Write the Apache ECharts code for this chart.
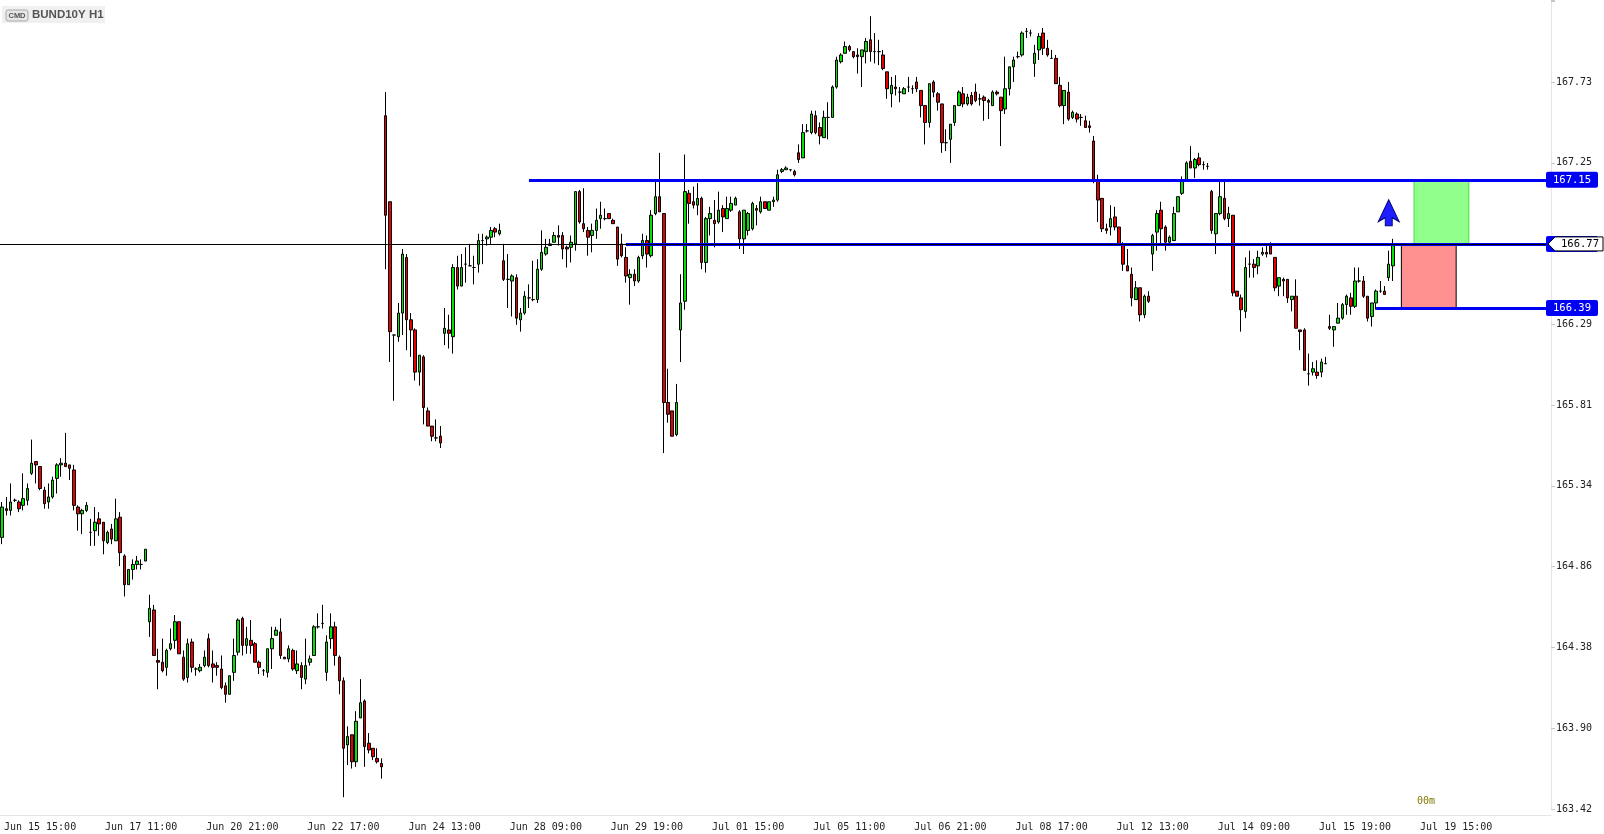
<!DOCTYPE html>
<html><head><meta charset="utf-8">
<script src="https://cdn.jsdelivr.net/npm/echarts@6/dist/echarts.min.js"></script>
<style>html,body{margin:0;padding:0;background:#fff}#c{width:1604px;height:834px}</style>
</head><body><div id="c"></div>
<script>
// ---------- data ----------
const instrument = 'BUND10Y H1';
const xTickLabels = ['Jun 15 15:00','Jun 17 11:00','Jun 20 21:00','Jun 22 17:00','Jun 24 13:00','Jun 28 09:00','Jun 29 19:00','Jul 01 15:00','Jul 05 11:00','Jul 06 21:00','Jul 08 17:00','Jul 12 13:00','Jul 14 09:00','Jul 15 19:00','Jul 19 15:00'];
const firstLabelIndex = 9, labelEvery = 24, slotCount = 368;
const yTickLabels = ['163.42','163.90','164.38','164.86','165.34','165.81','166.29','166.77','167.25','167.73'];
const yMin = 163.42, yStep = 0.47889, yMax = 168.216;

const open = [
165.03,165.20,165.19,165.25,165.24,165.22,165.25,165.41,165.48,165.45,
165.31,165.24,165.27,165.38,165.46,165.47,165.46,165.43,165.21,165.17,
165.19,165.06,165.07,165.14,165.12,165.00,165.08,165.01,165.15,164.92,
164.75,164.84,164.87,164.87,164.89,164.53,164.60,164.30,164.29,164.26,
164.37,164.42,164.53,164.32,164.20,164.41,164.25,164.24,164.27,164.43,
164.28,164.27,164.25,164.15,164.10,164.23,164.35,164.55,164.39,164.42,
164.40,164.29,164.24,164.23,164.37,164.45,164.47,164.32,164.31,164.36,
164.24,164.27,164.19,164.29,164.33,164.50,164.52,164.23,164.43,164.50,
164.32,164.18,163.80,163.86,163.70,163.96,164.06,163.81,163.78,163.72,
163.69,167.53,167.02,166.23,166.22,166.36,166.69,166.32,166.26,166.01,
166.10,165.78,165.69,165.62,165.63,166.24,166.26,166.22,166.63,166.52,
166.65,166.64,166.63,166.65,166.79,166.80,166.81,166.86,166.83,166.67,
166.56,166.55,166.57,166.32,166.36,166.45,166.44,166.44,166.62,166.71,
166.76,166.78,166.82,166.82,166.75,166.75,166.77,167.08,166.89,166.85,
166.82,166.85,166.92,166.92,166.95,166.91,166.87,166.77,166.69,166.57,
166.59,166.55,166.70,166.79,166.70,166.95,167.05,166.95,165.83,165.78,
165.64,166.26,166.43,167.07,167.02,167.00,167.04,166.66,166.92,166.91,
166.90,166.98,166.92,166.97,167.00,166.96,166.80,166.85,166.86,166.98,
166.96,167.02,166.97,167.02,167.03,167.20,167.21,167.21,167.20,167.31,
167.28,167.44,167.43,167.53,167.46,167.40,167.52,167.52,167.70,167.85,
167.90,167.94,167.91,167.89,167.88,167.91,167.98,167.91,167.91,167.89,
167.79,167.66,167.70,167.67,167.66,167.70,167.69,167.73,167.68,167.59,
167.49,167.73,167.66,167.60,167.37,167.39,167.49,167.59,167.66,167.60,
167.65,167.67,167.63,167.64,167.62,167.59,167.67,167.64,167.57,167.69,
167.82,167.88,167.89,168.03,168.02,167.84,167.92,168.02,167.93,167.87,
167.87,167.71,167.59,167.67,167.52,167.54,167.52,167.50,167.47,167.38,
167.14,167.04,166.86,166.87,166.93,166.87,166.77,166.64,166.59,166.44,
166.51,166.35,166.46,166.71,166.84,166.97,166.87,166.78,166.79,166.96,
167.07,167.15,167.26,167.22,167.28,167.24,167.23,167.08,166.83,166.95,
167.04,166.92,166.94,166.49,166.45,166.37,166.65,166.65,166.64,166.71,
166.72,166.76,166.69,166.52,166.56,166.56,166.44,166.46,166.26,166.26,
166.00,166.01,166.01,166.01,166.06,166.28,166.26,166.30,166.33,166.41,
166.45,166.40,166.55,166.55,166.46,166.34,166.42,166.49,166.49,166.57,
166.64];
const high = [
165.24,165.27,165.35,165.26,165.25,165.41,165.35,165.61,165.48,165.45,
165.33,165.35,165.39,165.47,165.50,165.65,165.46,165.46,165.22,165.20,
165.24,165.14,165.21,165.18,165.12,165.07,165.11,165.26,165.18,164.93,
164.84,164.90,164.92,164.90,164.96,164.69,164.63,164.37,164.43,164.37,
164.49,164.57,164.53,164.36,164.43,164.43,164.26,164.28,164.36,164.46,
164.36,164.29,164.33,164.17,164.21,164.43,164.55,164.56,164.50,164.54,
164.41,164.30,164.25,164.37,164.50,164.50,164.55,164.32,164.39,164.37,
164.36,164.29,164.43,164.33,164.51,164.58,164.63,164.45,164.58,164.53,
164.33,164.20,163.91,163.86,164.00,164.19,164.07,163.87,163.78,163.78,
163.72,167.67,167.02,166.23,166.42,166.74,166.71,166.36,166.27,166.11,
166.11,165.80,165.69,165.73,165.69,166.39,166.35,166.65,166.70,166.71,
166.75,166.77,166.70,166.83,166.83,166.82,166.87,166.87,166.89,166.77,
166.71,166.59,166.59,166.39,166.49,166.53,166.67,166.68,166.85,166.80,
166.80,166.84,166.88,166.84,166.76,166.82,167.08,167.09,167.10,166.87,
166.89,166.98,167.02,166.98,166.95,166.92,166.87,166.83,166.75,166.62,
166.62,166.70,166.83,166.82,166.97,167.14,167.31,166.95,166.03,165.78,
165.94,166.59,167.30,167.09,167.11,167.13,167.05,166.93,166.99,167.03,
167.08,167.00,167.05,167.05,167.05,166.97,166.97,166.96,167.02,167.00,
167.05,167.02,167.02,167.05,167.21,167.22,167.23,167.21,167.21,167.36,
167.48,167.48,167.56,167.56,167.49,167.56,167.61,167.71,167.88,167.90,
167.97,167.95,167.91,167.93,167.92,167.99,168.12,168.02,167.98,167.92,
167.79,167.76,167.77,167.70,167.70,167.76,167.71,167.76,167.68,167.59,
167.72,167.74,167.67,167.60,167.45,167.48,167.59,167.68,167.70,167.66,
167.67,167.72,167.66,167.65,167.63,167.68,167.68,167.64,167.88,167.82,
167.88,167.91,168.03,168.05,168.04,167.95,168.02,168.05,167.98,167.92,
167.89,167.76,167.68,167.73,167.56,167.55,167.54,167.53,167.50,167.41,
167.18,167.04,166.89,167.00,166.99,166.87,166.78,166.74,166.63,166.55,
166.51,166.47,166.49,166.83,166.97,167.02,166.88,166.82,166.99,167.05,
167.17,167.26,167.35,167.28,167.31,167.26,167.25,167.09,166.95,167.15,
167.15,166.99,166.94,166.49,166.47,166.69,166.73,166.68,166.73,166.75,
166.76,166.78,166.69,166.57,166.57,166.56,166.46,166.56,166.26,166.27,
166.12,166.07,166.08,166.09,166.10,166.35,166.28,166.42,166.42,166.47,
166.48,166.63,166.63,166.58,166.46,166.42,166.50,166.55,166.52,166.73,
166.80];
const low = [
164.99,165.16,165.16,165.24,165.18,165.19,165.22,165.40,165.35,165.31,
165.20,165.20,165.26,165.29,165.39,165.45,165.37,165.19,165.07,165.05,
165.18,164.98,164.98,165.04,164.93,164.99,164.99,165.01,164.86,164.68,
164.75,164.78,164.84,164.84,164.89,164.44,164.33,164.13,164.23,164.21,
164.36,164.37,164.34,164.18,164.17,164.23,164.21,164.23,164.26,164.26,
164.17,164.21,164.13,164.05,164.10,164.18,164.33,164.33,164.34,164.34,
164.29,164.22,164.21,164.20,164.25,164.45,164.31,164.31,164.29,164.24,
164.22,164.13,164.16,164.27,164.33,164.49,164.49,164.18,164.37,164.27,
164.10,163.49,163.68,163.66,163.67,163.96,163.67,163.75,163.71,163.69,
163.60,166.62,166.07,165.84,166.19,166.23,166.14,166.10,165.96,165.93,
165.70,165.69,165.60,165.60,165.56,166.17,166.15,166.12,166.50,166.52,
166.54,166.64,166.53,166.60,166.65,166.76,166.77,166.81,166.82,166.55,
166.39,166.34,166.29,166.25,166.35,166.39,166.43,166.42,166.61,166.70,
166.76,166.78,166.76,166.68,166.63,166.66,166.73,166.89,166.84,166.70,
166.72,166.80,166.86,166.91,166.92,166.89,166.64,166.69,166.54,166.41,
166.52,166.54,166.68,166.63,166.69,166.94,166.96,165.53,165.71,165.63,
165.63,166.07,166.38,166.89,166.98,166.94,166.62,166.60,166.82,166.75,
166.89,166.84,166.92,166.96,167.00,166.74,166.71,166.82,166.85,166.88,
166.95,166.98,166.97,166.99,167.02,167.19,167.21,167.20,167.17,167.25,
167.28,167.43,167.42,167.42,167.36,167.40,167.39,167.52,167.69,167.84,
167.90,167.91,167.87,167.78,167.70,167.84,167.85,167.84,167.83,167.80,
167.63,167.58,167.65,167.61,167.66,167.67,167.66,167.67,167.52,167.36,
167.46,167.64,167.56,167.31,167.32,167.25,167.47,167.59,167.58,167.59,
167.59,167.61,167.59,167.50,167.51,167.59,167.65,167.35,167.54,167.65,
167.73,167.87,167.88,167.99,168.00,167.76,167.86,167.89,167.88,167.87,
167.72,167.58,167.48,167.50,167.51,167.49,167.47,167.46,167.43,167.13,
166.90,166.84,166.83,166.82,166.85,166.76,166.61,166.61,166.40,166.44,
166.31,166.33,166.42,166.61,166.73,166.77,166.73,166.77,166.79,166.96,
167.06,167.15,167.22,167.16,167.23,167.21,167.21,166.83,166.71,166.94,
166.91,166.87,166.46,166.46,166.25,166.33,166.57,166.57,166.59,166.70,
166.69,166.71,166.49,166.46,166.46,166.42,166.37,166.27,166.14,166.02,
165.93,165.99,165.97,165.98,166.06,166.26,166.16,166.30,166.32,166.35,
166.35,166.39,166.54,166.45,166.31,166.28,166.38,166.48,166.47,166.55,
166.55];
const close = [
165.21,165.19,165.24,165.25,165.20,165.26,165.32,165.47,165.46,165.32,
165.23,165.27,165.37,165.46,165.47,165.45,165.44,165.22,165.17,165.19,
165.22,165.06,165.12,165.11,165.01,165.06,165.02,165.14,164.94,164.75,
164.84,164.87,164.89,164.87,164.96,164.61,164.33,164.29,164.24,164.36,
164.40,164.53,164.34,164.19,164.40,164.26,164.25,164.26,164.32,164.27,
164.26,164.26,164.14,164.10,164.21,164.33,164.54,164.39,164.43,164.39,
164.29,164.26,164.24,164.37,164.43,164.48,164.33,164.31,164.37,164.25,
164.28,164.20,164.27,164.31,164.50,164.50,164.52,164.41,164.50,164.33,
164.18,163.78,163.85,163.70,163.94,164.05,163.79,163.77,163.73,163.70,
163.67,166.94,166.25,166.23,166.36,166.71,166.32,166.26,166.01,166.11,
165.80,165.69,165.63,165.62,165.59,166.27,166.24,166.63,166.52,166.63,
166.65,166.64,166.63,166.79,166.79,166.81,166.85,166.84,166.85,166.56,
166.56,166.58,166.33,166.36,166.46,166.45,166.44,166.62,166.72,166.75,
166.77,166.82,166.81,166.74,166.74,166.78,167.08,166.90,166.86,166.81,
166.85,166.91,166.94,166.92,166.92,166.89,166.68,166.70,166.58,166.59,
166.55,166.69,166.79,166.71,166.94,167.05,166.96,165.83,165.76,165.63,
165.83,166.42,167.08,167.01,167.00,167.04,166.66,166.92,166.95,166.89,
166.97,166.93,166.98,167.01,167.04,166.80,166.97,166.95,167.01,166.97,
167.02,166.98,167.02,167.03,167.18,167.21,167.22,167.21,167.18,167.27,
167.43,167.44,167.54,167.43,167.41,167.52,167.52,167.70,167.86,167.89,
167.94,167.92,167.88,167.88,167.92,167.97,167.91,167.91,167.91,167.81,
167.69,167.71,167.69,167.67,167.69,167.70,167.69,167.69,167.59,167.49,
167.72,167.67,167.61,167.37,167.37,167.48,167.59,167.67,167.60,167.64,
167.60,167.62,167.63,167.62,167.61,167.67,167.66,167.56,167.69,167.82,
167.86,167.88,168.02,168.03,168.02,167.90,168.00,167.93,167.89,167.87,
167.72,167.59,167.68,167.51,167.55,167.51,167.52,167.46,167.46,167.14,
167.03,166.86,166.85,166.92,166.87,166.77,166.65,166.61,166.45,166.51,
166.35,166.46,166.43,166.82,166.95,166.86,166.78,166.81,166.95,167.05,
167.15,167.25,167.22,167.27,167.24,167.24,167.23,166.85,166.95,167.05,
166.92,166.95,166.48,166.46,166.38,166.63,166.65,166.63,166.69,166.72,
166.71,166.71,166.51,166.57,166.55,166.45,166.46,166.27,166.25,166.02,
166.00,166.03,165.99,166.07,166.06,166.27,166.28,166.33,166.41,166.46,
166.40,166.55,166.55,166.46,166.33,166.42,166.49,166.49,166.47,166.65,
166.77];

// trade drawing levels
const lastPrice = 166.77;
const targetLevel = 167.15, entryLevel = 166.77, stopLevel = 166.39;
const targetLineStart = 125, entryLineStart = 148, stopLineStart = 326;
const targetZone = [335, 348], stopZone = [332, 345];
const arrowAt = [329, 166.955];
const timerText = '00m';

// ---------- chart ----------
const chart = echarts.init(document.getElementById('c'), null, {renderer: 'canvas'});
const categories = Array.from({length: slotCount}, (_, i) => String(i));
const ohlc = open.map((o, i) => [o, close[i], low[i], high[i]]);
const isLabelSlot = i => i >= firstLabelIndex && (i - firstLabelIndex) % labelEvery === 0 && (i - firstLabelIndex) / labelEvery < xTickLabels.length;
const BLUE = '#0000f5';
const lastSlot = slotCount - 1;

const option = {
  animation: false,
  backgroundColor: '#ffffff',
  grid: {left: 0, right: 53, top: 0, bottom: 25},
  xAxis: {
    type: 'category', data: categories, boundaryGap: true, offset: 6,
    axisLine: {show: true, lineStyle: {color: '#e6e6e6', width: 1}},
    axisTick: {show: false},
    splitLine: {show: false},
    axisLabel: {
      interval: (i) => isLabelSlot(i),
      formatter: (v, i) => xTickLabels[(i - firstLabelIndex) / labelEvery] || '',
      fontFamily: 'DejaVu Sans Mono', fontSize: 10, color: '#222', margin: 7
    }
  },
  yAxis: {
    type: 'value', position: 'right', min: yMin, max: yMax, interval: yStep,
    axisLine: {show: true, lineStyle: {color: '#e6e6e6', width: 1}},
    axisTick: {show: true, length: 4, lineStyle: {color: '#c8c8c8'}},
    splitLine: {show: false},
    axisLabel: {
      formatter: v => {
        const k = Math.round((v - yMin) / yStep);
        return (Math.abs(yMin + k * yStep - v) < 1e-3 && k >= 0 && k < yTickLabels.length) ? yTickLabels[k] : '';
      },
      fontFamily: 'DejaVu Sans Mono', fontSize: 10, color: '#222', margin: 5
    }
  },
  series: [{
    type: 'candlestick',
    data: ohlc,
    barWidth: 3,
    itemStyle: {color: '#00e400', color0: '#e80000', borderColor: '#000', borderColor0: '#000', borderColorDoji: '#000', borderWidth: 1},
    markArea: {
      silent: true,
      data: [
        [{coord: [targetZone[0], targetLevel], itemStyle: {color: '#90ff8c', borderColor: '#3ee23a', borderWidth: 1}}, {coord: [targetZone[1], entryLevel]}],
        [{coord: [stopZone[0], entryLevel], itemStyle: {color: '#ff9090', borderColor: '#000', borderWidth: 1}}, {coord: [stopZone[1], stopLevel]}]
      ]
    },
    markLine: {
      silent: true, symbol: ['none', 'none'], animation: false,
      label: {show: false},
      emphasis: {disabled: true},
      data: [
        [{coord: [targetLineStart, targetLevel], lineStyle: {color: BLUE, width: 3, type: 'solid'}}, {coord: [lastSlot, targetLevel]}],
        [{coord: [entryLineStart, entryLevel], lineStyle: {color: BLUE, width: 3, type: 'solid'}}, {coord: [lastSlot, entryLevel]}],
        [{coord: [stopLineStart, stopLevel], lineStyle: {color: BLUE, width: 3, type: 'solid'}}, {coord: [lastSlot, stopLevel]}],
        {yAxis: lastPrice, lineStyle: {color: '#000', width: 1, type: 'solid'}}
      ]
    },
    markPoint: {
      silent: true,
      data: [{
        coord: arrowAt,
        symbol: 'path://M10.5,0 L21,22 L14,18 L14,26 L7,26 L7,18 L0,22 Z',
        symbolSize: [21, 26],
        itemStyle: {color: '#1e1eff', borderColor: '#00007a', borderWidth: 1},
        label: {show: false}
      }]
    }
  }]
};
chart.setOption(option);

// ---------- overlay labels (positions from the chart's own scale) ----------
const yPx = v => chart.convertToPixel({yAxisIndex: 0}, v);
const tagX = 1546, tagW = 52, tagH = 16;
const font = '10.5px "DejaVu Sans Mono"';
function txt(x, y, text, fill, f, align) {
  return {type: 'text', x, y, z: 120,
    style: {text, fill, font: f, align: align || 'center', textAlign: align || 'center', verticalAlign: 'middle', textVerticalAlign: 'middle'}};
}
function blueTag(v, label) {
  const y = yPx(v);
  return [
    {type: 'rect', z: 110, shape: {x: tagX, y: y - tagH / 2, width: tagW, height: tagH, r: 2}, style: {fill: BLUE}},
    txt(tagX + tagW / 2, y + 0.5, label, '#ffffff', font)
  ];
}
const yLast = yPx(lastPrice);
const graphics = [].concat(
  blueTag(targetLevel, targetLevel.toFixed(2)),
  blueTag(stopLevel, stopLevel.toFixed(2)),
  blueTag(entryLevel, entryLevel.toFixed(2)),
  [
    {type: 'polygon', z: 115, shape: {points: [[1548, yLast], [1555, yLast - 7], [1603, yLast - 7], [1603, yLast + 7], [1555, yLast + 7]]},
      style: {fill: '#ffffff', stroke: '#000', lineWidth: 1}},
    txt(1580, yLast + 0.5, lastPrice.toFixed(2), '#000', font),
    // instrument title
    {type: 'rect', z: 100, shape: {x: 2, y: 6, width: 103, height: 17}, style: {fill: '#f0f0f0'}},
    {type: 'rect', z: 101, shape: {x: 6, y: 10, width: 22, height: 11, r: 2}, style: {fill: '#e6e6e6', stroke: '#a8a8a8', lineWidth: 1}},
    txt(17, 16, 'CMD', '#555', 'bold 7.5px "Liberation Sans"'),
    txt(32, 15, instrument, '#555', 'bold 11.5px "Liberation Sans"', 'left'),
    txt(1426, 801, timerText, '#7f7a00', '10px "DejaVu Sans Mono"')
  ]
);
chart.setOption({graphic: {elements: graphics}});
</script>
</body></html>
